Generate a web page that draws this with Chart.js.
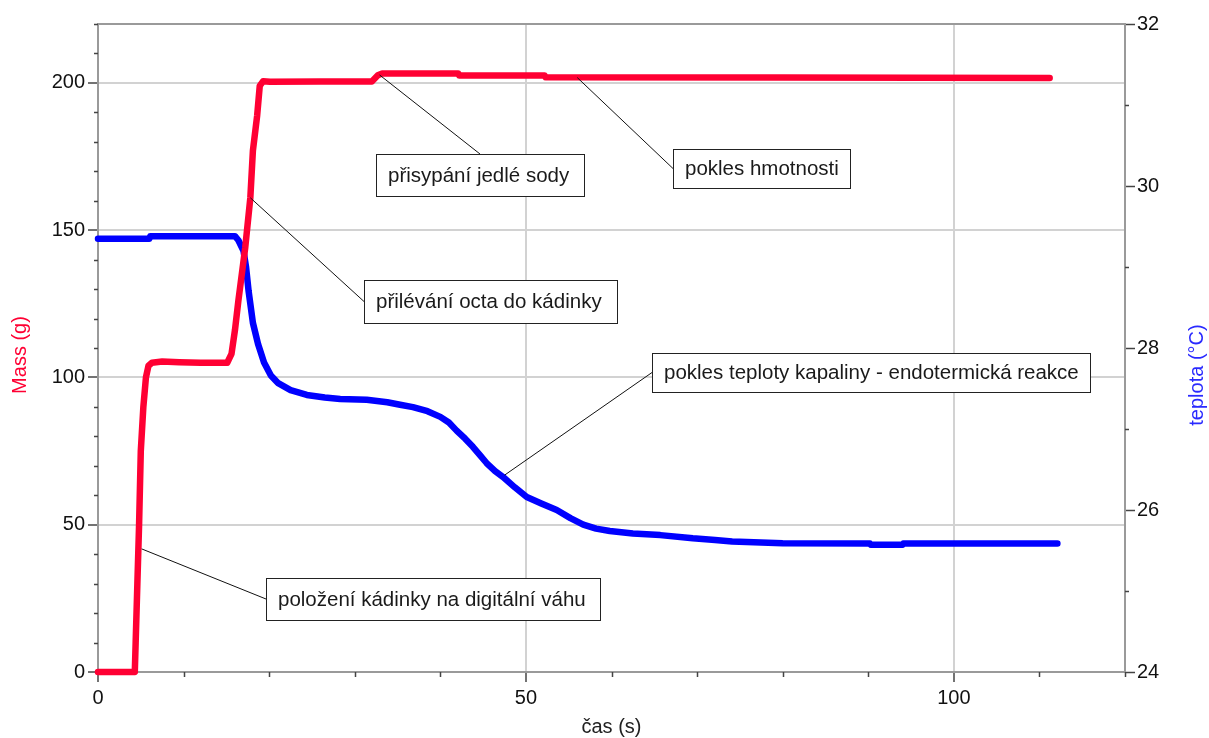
<!DOCTYPE html>
<html>
<head>
<meta charset="utf-8">
<script src="https://cdn.jsdelivr.net/npm/chart.js@4.4.1/dist/chart.umd.min.js"></script>
<style>
  html, body { margin: 0; padding: 0; background: #fff; }
  canvas { display: block; }
</style>
</head>
<body>
<canvas id="c" width="1209" height="738"></canvas>
<script>
// Mass of the beaker on the scale (g) against time (s)
const massTime  = [0, 4.3, 4.4, 4.6, 4.8, 5.0, 5.3, 5.6, 5.9, 6.3, 7.5, 9.5, 12, 15.1, 15.6, 16.0, 16.4, 16.8, 17.2, 17.8, 18.1, 18.6, 18.9, 19.3, 20.1, 26, 32.0, 32.7, 33.2, 42.1, 42.2, 52.2, 52.3, 80, 111.2];
const massGrams = [0, 0, 10, 30, 50, 75, 90, 100, 104, 105, 105.4, 105.2, 105, 105, 108, 116, 126, 135, 144, 161, 177, 189, 199, 200.6, 200.4, 200.5, 200.5, 202.6, 203.2, 203.2, 202.5, 202.5, 201.9, 201.8, 201.7];

// Liquid temperature (°C) against time (s)
const tempTime    = [0, 6.0, 6.1, 16.0, 16.4, 17.0, 17.3, 17.6, 18.1, 18.7, 19.4, 20.2, 21.0, 22.5, 24.4, 26.5, 28.3, 31.4, 33.8, 35.3, 36.8, 38.5, 40.0, 41.0, 41.9, 42.9, 43.8, 44.6, 45.4, 46.4, 47.3, 48.7, 50.1, 51.8, 53.6, 55.2, 56.7, 58.2, 59.8, 62.5, 65.7, 69.5, 72.1, 74.1, 80.0, 90.2, 90.3, 94.0, 94.1, 112.1];
const tempCelsius = [29.35, 29.35, 29.38, 29.38, 29.33, 29.2, 29.0, 28.7, 28.31, 28.05, 27.82, 27.66, 27.57, 27.48, 27.42, 27.39, 27.37, 27.36, 27.33, 27.3, 27.27, 27.22, 27.15, 27.08, 26.98, 26.88, 26.78, 26.68, 26.58, 26.48, 26.41, 26.28, 26.16, 26.08, 26.0, 25.9, 25.82, 25.77, 25.74, 25.71, 25.69, 25.65, 25.63, 25.61, 25.59, 25.585, 25.57, 25.57, 25.585, 25.585];

// Axis ticks
const timeTicks = [0, 50, 100];
const massTicks = [0, 50, 100, 150, 200];
const tempTicks = [24, 26, 28, 30, 32];
const timeMinorStep = 10;
const massMinorStep = 10;
const tempMinorStep = 1;

// Axis titles
const timeTitle = 'čas (s)';
const massTitle = 'Mass (g)';
const tempTitle = 'teplota (°C)';

// Callouts: text and the point of the curve each one refers to
const noteTexts   = ['přisypání jedlé sody', 'pokles hmotnosti', 'přilévání octa do kádinky', 'pokles teploty kapaliny - endotermická reakce', 'položení kádinky na digitální váhu'];
const noteAtTime  = [32.9, 56.0, 17.8, 47.5, 5.1];
const noteAtValue = [202.7, 201.8, 161, 26.43, 41.8];
const noteAxis    = ['mass', 'mass', 'mass', 'temp', 'mass'];

const RED = '#ff0033';
const BLUE = '#0000ff';
const FONT = '"Liberation Sans", Arial, sans-serif';

Chart.defaults.font.family = FONT;
Chart.defaults.font.size = 20;
Chart.defaults.color = '#111';

// Callout boxes (canvas pixels) and which side the leader line joins
const noteBoxes = [
  { left: 376, top: 154, w: 208, h: 42, join: 'top' },
  { left: 673, top: 149, w: 177, h: 39, join: 'left' },
  { left: 364, top: 280, w: 253, h: 43, join: 'left' },
  { left: 652, top: 353, w: 438, h: 39, join: 'left' },
  { left: 266, top: 578, w: 334, h: 42, join: 'left' }
];

function pairs(xs, ys) { return xs.map((x, i) => ({ x: x, y: ys[i] })); }
function fixedTicks(values) { return s => { s.ticks = values.map(v => ({ value: v })); }; }

const decorations = {
  id: 'decorations',
  afterDraw(chart) {
    const { ctx, chartArea: a, scales } = chart;
    ctx.save();

    // frame line along the top of the plot
    ctx.strokeStyle = '#9a9a9a';
    ctx.lineWidth = 2;
    ctx.beginPath();
    ctx.moveTo(a.left - 1, a.top);
    ctx.lineTo(a.right + 1, a.top);
    ctx.stroke();

    // minor tick marks
    ctx.strokeStyle = '#444';
    ctx.lineWidth = 1.5;
    ctx.beginPath();
    for (let v = 0; v <= scales.x.max; v += timeMinorStep) {
      if (timeTicks.includes(v)) continue;
      const px = Math.round(scales.x.getPixelForValue(v)) + 0.5;
      ctx.moveTo(px, a.bottom); ctx.lineTo(px, a.bottom + 5);
    }
    for (let v = 0; v <= scales.mass.max; v += massMinorStep) {
      if (massTicks.includes(v)) continue;
      const py = Math.round(scales.mass.getPixelForValue(v)) + 0.5;
      ctx.moveTo(a.left - 4, py); ctx.lineTo(a.left, py);
    }
    for (let v = scales.temp.min; v <= scales.temp.max; v += tempMinorStep) {
      if (tempTicks.includes(v)) continue;
      const py = Math.round(scales.temp.getPixelForValue(v)) + 0.5;
      ctx.moveTo(a.right, py); ctx.lineTo(a.right + 4, py);
    }
    ctx.stroke();

    // axis titles
    ctx.font = '20px ' + FONT;
    ctx.textAlign = 'center';
    ctx.textBaseline = 'middle';
    ctx.fillStyle = '#222';
    ctx.fillText(timeTitle, (a.left + a.right) / 2, 727);

    ctx.save();
    ctx.translate(20, 355);
    ctx.rotate(-Math.PI / 2);
    ctx.fillStyle = RED;
    ctx.fillText(massTitle, 0, 0);
    ctx.restore();

    ctx.save();
    ctx.translate(1197, 375);
    ctx.rotate(-Math.PI / 2);
    ctx.fillStyle = '#2a2aff';
    ctx.fillText(tempTitle, 0, 0);
    ctx.restore();

    // callouts with leader lines
    ctx.font = '20.5px ' + FONT;
    ctx.textAlign = 'left';
    noteTexts.forEach((text, i) => {
      const b = noteBoxes[i];
      const ax = scales.x.getPixelForValue(noteAtTime[i]);
      const ay = scales[noteAxis[i]].getPixelForValue(noteAtValue[i]);
      const jx = b.join === 'top' ? b.left + b.w / 2 : b.left;
      const jy = b.join === 'top' ? b.top : b.top + b.h / 2;
      ctx.strokeStyle = '#111';
      ctx.lineWidth = 1;
      ctx.beginPath();
      ctx.moveTo(ax, ay);
      ctx.lineTo(jx, jy);
      ctx.stroke();

      ctx.fillStyle = '#fff';
      ctx.fillRect(b.left, b.top, b.w, b.h);
      ctx.strokeStyle = '#222';
      ctx.strokeRect(b.left + 0.5, b.top + 0.5, b.w, b.h);
      ctx.fillStyle = '#1a1a1a';
      ctx.fillText(text, b.left + 12, b.top + b.h / 2 + 1);
    });

    ctx.restore();
  }
};

new Chart(document.getElementById('c'), {
  type: 'line',
  data: {
    datasets: [
      {
        label: massTitle,
        data: pairs(massTime, massGrams),
        yAxisID: 'mass',
        borderColor: RED,
        borderWidth: 6.5,
        pointRadius: 0,
        tension: 0,
        fill: false,
        clip: false,
        borderCapStyle: 'round',
        borderJoinStyle: 'round'
      },
      {
        label: tempTitle,
        data: pairs(tempTime, tempCelsius),
        yAxisID: 'temp',
        borderColor: BLUE,
        borderWidth: 6.5,
        pointRadius: 0,
        tension: 0,
        fill: false,
        clip: false,
        borderCapStyle: 'round',
        borderJoinStyle: 'round'
      }
    ]
  },
  options: {
    responsive: false,
    animation: false,
    parsing: true,
    layout: { padding: { top: 24, left: 0, right: 0, bottom: 0 } },
    plugins: {
      legend: { display: false },
      tooltip: { enabled: false }
    },
    scales: {
      x: {
        type: 'linear',
        position: 'bottom',
        min: 0,
        max: 120,
        afterBuildTicks: fixedTicks(timeTicks),
        afterFit: s => { s.height = 66; },
        grid: { color: '#d2d2d2', lineWidth: 2, tickLength: 10, tickColor: '#444', tickWidth: 1.5 },
        border: { color: '#9a9a9a', width: 2 },
        ticks: { padding: 4, maxRotation: 0, autoSkip: false, color: '#111' }
      },
      mass: {
        type: 'linear',
        position: 'left',
        min: 0,
        max: 220,
        afterBuildTicks: fixedTicks(massTicks),
        afterFit: s => { s.width = 98; },
        grid: { color: '#d2d2d2', lineWidth: 2, tickLength: 10, tickColor: '#444', tickWidth: 1.5 },
        border: { color: '#9a9a9a', width: 2 },
        ticks: { padding: 3, color: '#111' }
      },
      temp: {
        type: 'linear',
        position: 'right',
        min: 24,
        max: 32,
        afterBuildTicks: fixedTicks(tempTicks),
        afterFit: s => { s.width = 84; },
        grid: { drawOnChartArea: false, tickLength: 10, tickColor: '#444', tickWidth: 1.5 },
        border: { color: '#9a9a9a', width: 2 },
        ticks: { padding: 2, color: '#111' }
      }
    }
  },
  plugins: [decorations]
});
</script>
</body>
</html>
